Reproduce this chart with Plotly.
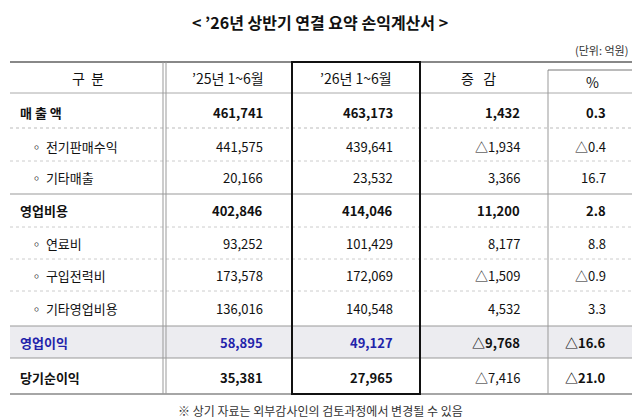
import plotly.graph_objects as go

title = "< ’26년 상반기 연결 요약 손익계산서 >"
unit = "(단위: 억원)"
headers = ["구  분", "’25년 1~6월", "’26년 1~6월", "증   감", "%"]
labels = ["매 출 액", "◦ 전기판매수익", "◦ 기타매출", "영업비용", "◦ 연료비",
          "◦ 구입전력비", "◦ 기타영업비용", "영업이익", "당기순이익"]
y25 = ["461,741", "441,575", "20,166", "402,846", "93,252", "173,578", "136,016", "58,895", "35,381"]
y26 = ["463,173", "439,641", "23,532", "414,046", "101,429", "172,069", "140,548", "49,127", "27,965"]
diff = ["1,432", "△1,934", "3,366", "11,200", "8,177", "△1,509", "4,532", "△9,768", "△7,416"]
pct = ["0.3", "△0.4", "16.7", "2.8", "8.8", "△0.9", "3.3", "△16.6", "△21.0"]
bold = [True, False, False, True, False, False, False, True, True]
footer = "※ 상기 자료는 외부감사인의 검토과정에서 변경될 수 있음"

FONT = "Noto Sans CJK KR"
row_y = [112, 146, 177, 210, 243, 275, 308, 342, 377]
sub = [False, True, True, False, True, True, True, False, False]

fig = go.Figure()
shapes = []
ann = []

def line(x0, y0, x1, y1, color="#999", w=1, dash=None):
    d = dict(type="line", x0=x0, y0=y0, x1=x1, y1=y1, xref="x", yref="y",
             line=dict(color=color, width=w))
    if dash:
        d["line"]["dash"] = dash
    shapes.append(d)

shapes.append(dict(type="rect", x0=10, x1=632, y0=326, y1=358, xref="x", yref="y",
                   fillcolor="#ececf0", line=dict(width=0), layer="below"))
line(10, 62, 632, 62, "#888", 2)
line(10, 93, 632, 93, "#aaa", 1)
line(10, 128, 632, 128, "#bbb", 1, "dot")
for yy in [161, 227, 259, 291]:
    line(10, yy, 632, yy, "#ccc", 1, "dot")
line(10, 194, 632, 194, "#999", 1)
line(10, 326, 632, 326, "#999", 1)
line(10, 358, 632, 358, "#999", 1)
line(10, 394, 632, 394, "#888", 1.5)
line(163, 62, 163, 394, "#999", 1)
line(166, 62, 166, 394, "#999", 1)
line(548, 70, 548, 394, "#999", 1)
line(548, 70, 632, 70, "#777", 1)
shapes.append(dict(type="rect", x0=292, x1=420, y0=62, y1=394, xref="x", yref="y",
                   line=dict(color="#111", width=2)))

def txt(x, y, s, anchor="center", size=13, b=False, color="#111"):
    ann.append(dict(x=x, y=y, xref="x", yref="y", text=f"<b>{s}</b>" if b else s,
                    showarrow=False, xanchor=anchor, yanchor="middle",
                    font=dict(family=FONT, size=size, color=color)))

txt(320, 22, title, size=16, b=True)
txt(630, 50, unit, "right", size=11, color="#333")
hx = [88, 228, 356, 478, 592]
for x, h in zip(hx, headers):
    txt(x, 78 if h != "%" else 82, h, size=14)

for i in range(len(labels)):
    y = row_y[i]
    c = "#2222aa" if labels[i] == "영업이익" else "#111"
    b = bold[i]
    txt(28 if sub[i] else 18, y, labels[i], "left", 13, b, c)
    txt(265, y, y25[i], "right", 13, b, c)
    txt(395, y, y26[i], "right", 13, b, c)
    txt(522, y, diff[i], "right", 13, b and labels[i] != "당기순이익", "#111")
    txt(608, y, pct[i], "right", 13, b, "#111")

txt(320, 410, footer, size=12, color="#333")

# page has an 8px body margin; offset axis ranges so data units equal page pixels
fig.update_layout(width=640, height=418, margin=dict(l=0, r=0, t=0, b=0),
                  paper_bgcolor="white", plot_bgcolor="white",
                  xaxis=dict(range=[8, 648], visible=False, fixedrange=True),
                  yaxis=dict(range=[426, 8], visible=False, fixedrange=True),
                  shapes=shapes, annotations=ann, showlegend=False)
fig.write_html("out.html")
